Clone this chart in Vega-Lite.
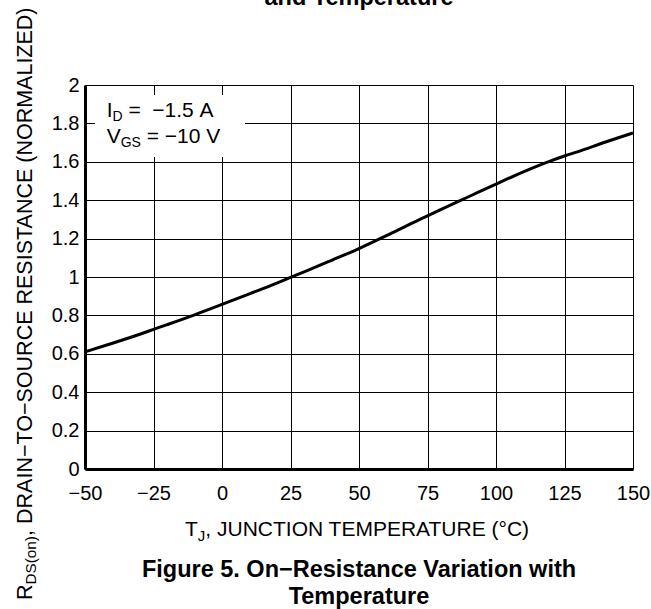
{
  "$schema": "https://vega.github.io/schema/vega-lite/v6.json",
  "width": 548,
  "height": 384,
  "autosize": {"type": "none"},
  "padding": {"left": 85, "top": 85, "right": 18, "bottom": 140},
  "background": "white",
  "config": {
    "view": {"stroke": null},
    "font": "Liberation Sans",
    "text": {"font": "Liberation Sans", "color": "black"}
  },
  "datasets": {
    "curve": [
      {"t": -50, "r": 0.61},
      {"t": -40, "r": 0.655},
      {"t": -30, "r": 0.702},
      {"t": -25, "r": 0.727},
      {"t": -20, "r": 0.752},
      {"t": -10, "r": 0.803},
      {"t": 0, "r": 0.857},
      {"t": 10, "r": 0.912},
      {"t": 20, "r": 0.968},
      {"t": 25, "r": 0.998},
      {"t": 30, "r": 1.027},
      {"t": 40, "r": 1.087},
      {"t": 50, "r": 1.148},
      {"t": 60, "r": 1.215},
      {"t": 70, "r": 1.285},
      {"t": 75, "r": 1.318},
      {"t": 80, "r": 1.352},
      {"t": 90, "r": 1.418},
      {"t": 100, "r": 1.484},
      {"t": 110, "r": 1.548},
      {"t": 120, "r": 1.605},
      {"t": 125, "r": 1.63},
      {"t": 130, "r": 1.653},
      {"t": 140, "r": 1.703},
      {"t": 150, "r": 1.75}
    ],
    "one": [{}]
  },
  "layer": [
    {
      "data": {"name": "curve"},
      "mark": {"type": "line", "color": "black", "strokeWidth": 3, "interpolate": "monotone"},
      "encoding": {
        "x": {
          "field": "t", "type": "quantitative",
          "scale": {"domain": [-50, 150], "nice": false, "zero": false},
          "axis": {
            "values": [-50, -25, 0, 25, 50, 75, 100, 125, 150],
            "tickCount": 30,
            "labelExpr": "format(datum.value, '~g')",
            "title": null,
            "grid": true, "gridColor": "black", "gridWidth": 1, "gridOpacity": 1,
            "domain": true, "domainColor": "black", "domainWidth": 3,
            "ticks": false, "tickSize": 0,
            "labelFont": "Liberation Sans", "labelFontSize": 20, "labelColor": "black",
            "labelPadding": 14.5, "labelFlush": false, "labelOverlap": false
          }
        },
        "y": {
          "field": "r", "type": "quantitative",
          "scale": {"domain": [0, 2], "nice": false, "zero": false},
          "axis": {
            "values": [0, 0.2, 0.4, 0.6, 0.8, 1, 1.2, 1.4, 1.6, 1.8, 2],
            "tickCount": 30,
            "labelExpr": "format(datum.value, '~g')",
            "title": null,
            "grid": true, "gridColor": "black", "gridWidth": 1, "gridOpacity": 1,
            "domain": true, "domainColor": "black", "domainWidth": 3,
            "ticks": false, "tickSize": 0,
            "labelFont": "Liberation Sans", "labelFontSize": 20, "labelColor": "black",
            "labelPadding": 6, "labelFlush": false, "labelOverlap": false
          }
        }
      }
    },
    {
      "data": {"name": "one"},
      "mark": {"type": "rect", "fill": "white", "stroke": null},
      "encoding": {
        "x": {"datum": -46.35, "type": "quantitative"},
        "x2": {"datum": 8.4},
        "y": {"datum": 1.948, "type": "quantitative"},
        "y2": {"datum": 1.625}
      }
    },
    {
      "data": {"name": "one"},
      "mark": {"type": "text", "text": "I", "fontSize": 21, "align": "left", "baseline": "alphabetic", "dx": 0, "dy": 0},
      "encoding": {"x": {"datum": -42.08, "type": "quantitative"}, "y": {"datum": 1.835, "type": "quantitative"}}
    },
    {
      "data": {"name": "one"},
      "mark": {"type": "text", "text": "D", "fontSize": 14, "align": "left", "baseline": "alphabetic", "dx": 5.8, "dy": 4},
      "encoding": {"x": {"datum": -42.08, "type": "quantitative"}, "y": {"datum": 1.835, "type": "quantitative"}}
    },
    {
      "data": {"name": "one"},
      "mark": {"type": "text", "text": "=\u00a0\u00a0−1.5\u00a0A", "fontSize": 21, "align": "left", "baseline": "alphabetic", "dx": 21.7, "dy": 0},
      "encoding": {"x": {"datum": -42.08, "type": "quantitative"}, "y": {"datum": 1.835, "type": "quantitative"}}
    },
    {
      "data": {"name": "one"},
      "mark": {"type": "text", "text": "V", "fontSize": 21, "align": "left", "baseline": "alphabetic", "dx": 0, "dy": 26},
      "encoding": {"x": {"datum": -42.08, "type": "quantitative"}, "y": {"datum": 1.835, "type": "quantitative"}}
    },
    {
      "data": {"name": "one"},
      "mark": {"type": "text", "text": "GS", "fontSize": 14, "align": "left", "baseline": "alphabetic", "dx": 14, "dy": 30},
      "encoding": {"x": {"datum": -42.08, "type": "quantitative"}, "y": {"datum": 1.835, "type": "quantitative"}}
    },
    {
      "data": {"name": "one"},
      "mark": {"type": "text", "text": "=\u00a0−10\u00a0V", "fontSize": 21, "align": "left", "baseline": "alphabetic", "dx": 40, "dy": 26},
      "encoding": {"x": {"datum": -42.08, "type": "quantitative"}, "y": {"datum": 1.835, "type": "quantitative"}}
    },
    {
      "data": {"name": "one"},
      "mark": {"type": "text", "text": "T", "fontSize": 21, "align": "left", "baseline": "alphabetic", "dx": 100, "dy": 67},
      "encoding": {"x": {"datum": -50, "type": "quantitative"}, "y": {"datum": 0, "type": "quantitative"}}
    },
    {
      "data": {"name": "one"},
      "mark": {"type": "text", "text": "J", "fontSize": 15, "align": "left", "baseline": "alphabetic", "dx": 112.8, "dy": 72},
      "encoding": {"x": {"datum": -50, "type": "quantitative"}, "y": {"datum": 0, "type": "quantitative"}}
    },
    {
      "data": {"name": "one"},
      "mark": {"type": "text", "text": ", JUNCTION TEMPERATURE (°C)", "fontSize": 21, "align": "left", "baseline": "alphabetic", "dx": 120.3, "dy": 67},
      "encoding": {"x": {"datum": -50, "type": "quantitative"}, "y": {"datum": 0, "type": "quantitative"}}
    },
    {
      "data": {"name": "one"},
      "mark": {"type": "text", "text": "R", "fontSize": 21.5, "angle": 270, "align": "left", "baseline": "alphabetic", "dx": -131, "dy": -53},
      "encoding": {"x": {"datum": -50, "type": "quantitative"}, "y": {"datum": 0, "type": "quantitative"}}
    },
    {
      "data": {"name": "one"},
      "mark": {"type": "text", "text": "DS(on)", "fontSize": 15.3, "angle": 270, "align": "left", "baseline": "alphabetic", "dx": -115.5, "dy": -49},
      "encoding": {"x": {"datum": -50, "type": "quantitative"}, "y": {"datum": 0, "type": "quantitative"}}
    },
    {
      "data": {"name": "one"},
      "mark": {"type": "text", "text": ", DRAIN−TO−SOURCE RESISTANCE (NORMALIZED)", "fontSize": 21.5, "angle": 270, "align": "left", "baseline": "alphabetic", "dx": -66.9, "dy": -53},
      "encoding": {"x": {"datum": -50, "type": "quantitative"}, "y": {"datum": 0, "type": "quantitative"}}
    },
    {
      "data": {"name": "one"},
      "mark": {"type": "text", "text": ["Figure 5. On−Resistance Variation with", "Temperature"], "fontSize": 23.5, "fontWeight": "bold", "align": "center", "baseline": "alphabetic", "lineHeight": 26.6, "dy": 108},
      "encoding": {"x": {"datum": 50, "type": "quantitative"}, "y": {"datum": 0, "type": "quantitative"}}
    },
    {
      "data": {"name": "one"},
      "mark": {"type": "text", "text": "and Temperature", "fontSize": 23.5, "fontWeight": "bold", "align": "center", "baseline": "alphabetic", "dy": -80},
      "encoding": {"x": {"datum": 50, "type": "quantitative"}, "y": {"datum": 2, "type": "quantitative"}}
    }
  ]
}
